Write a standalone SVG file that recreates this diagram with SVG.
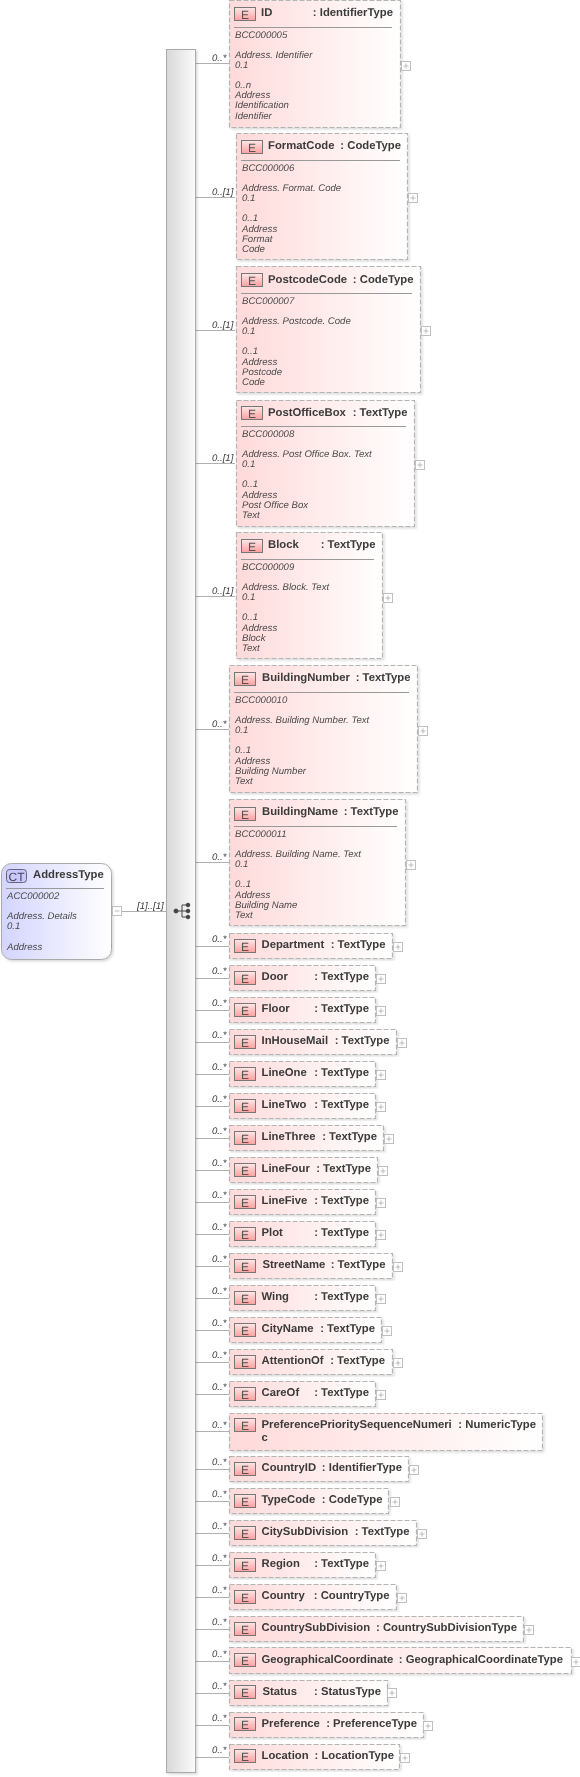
<svg xmlns="http://www.w3.org/2000/svg" width="580" height="1777" viewBox="0 0 580 1777">
<defs>
<linearGradient id="pk" x1="0" x2="1" y1="0" y2="0"><stop offset="0" stop-color="#ffdada"/><stop offset="1" stop-color="#ffffff"/></linearGradient>
<linearGradient id="bl" x1="0" x2="1" y1="0" y2="0"><stop offset="0" stop-color="#d4d4ff"/><stop offset="1" stop-color="#ffffff"/></linearGradient>
<linearGradient id="sp" x1="0" x2="1" y1="0" y2="0"><stop offset="0" stop-color="#d8d8d8"/><stop offset="1" stop-color="#fbfbfb"/></linearGradient>
<linearGradient id="eb" x1="0" x2="0" y1="0" y2="1"><stop offset="0" stop-color="#ffe8e8"/><stop offset="1" stop-color="#ff9f9f"/></linearGradient>
<filter id="sh" x="-10%" y="-10%" width="120%" height="120%"><feDropShadow dx="1.5" dy="1.5" stdDeviation="1" flood-color="#000" flood-opacity="0.15"/></filter>
<filter id="soft" filterUnits="userSpaceOnUse" x="0" y="0" width="580" height="1777"><feGaussianBlur stdDeviation="0.3"/></filter>
<g id="badge"><rect x="0.500" y="0.500" width="21" height="13" fill="url(#eb)" stroke="#777"/><text x="11" y="11.500" text-anchor="middle" class="bt">E</text></g>
<g id="plus"><rect x="0.500" y="0.500" width="9" height="9" fill="#fff" stroke="#c0c0c0"/><path d="M2.500 5H7.500M5 2.500V7.500" stroke="#bbb" fill="none"/></g>
</defs>
<style>
text{font-family:"Liberation Sans",Arial,sans-serif;text-rendering:geometricPrecision}
.n{font-size:11.3px;font-weight:bold;fill:#3a3a3a}
.i{font-size:9.6px;font-style:italic;fill:#4a4a4a}
.m{font-size:9.6px;font-style:italic;fill:#3a3a3a}
.bt{font-size:12px;fill:#555}
.b{fill:url(#pk);stroke:#b4b4b4;stroke-width:1.2;stroke-dasharray:5 2;filter:url(#sh)}
.r{stroke:#999;fill:none}
.c{stroke:#b0b0b0;fill:none}
</style>
<g filter="url(#soft)">
<g id="connectors">
<path class="c" d="M121 911.500H166M195 63.500H229M195 197.500H235M195 330.500H235M195 463.500H235M195 596.500H235M195 729.500H229M195 862.500H229M195 946.500H229M195 978.500H229M195 1010.500H229M195 1042.500H229M195 1074.500H229M195 1106.500H229M195 1138.500H229M195 1170.500H229M195 1202.500H229M195 1234.500H229M195 1266.500H229M195 1298.500H229M195 1330.500H229M195 1362.500H229M195 1394.500H229M195 1431.500H229M195 1469.500H229M195 1501.500H229M195 1533.500H229M195 1565.500H229M195 1597.500H229M195 1629.500H229M195 1661.500H229M195 1693.500H229M195 1725.500H229M195 1757.500H229"/>
<text class="m" x="137" y="909">[1]..[1]</text>
<text class="m" x="212" y="61">0..*</text><text class="m" x="212" y="195">0..[1]</text><text class="m" x="212" y="328">0..[1]</text><text class="m" x="212" y="461">0..[1]</text><text class="m" x="212" y="594">0..[1]</text><text class="m" x="212" y="727">0..*</text><text class="m" x="212" y="860">0..*</text>
<text class="m" x="212" y="942">0..*</text><text class="m" x="212" y="974">0..*</text><text class="m" x="212" y="1006">0..*</text><text class="m" x="212" y="1038">0..*</text><text class="m" x="212" y="1070">0..*</text><text class="m" x="212" y="1102">0..*</text><text class="m" x="212" y="1134">0..*</text><text class="m" x="212" y="1166">0..*</text><text class="m" x="212" y="1198">0..*</text><text class="m" x="212" y="1230">0..*</text><text class="m" x="212" y="1262">0..*</text><text class="m" x="212" y="1294">0..*</text><text class="m" x="212" y="1326">0..*</text><text class="m" x="212" y="1358">0..*</text><text class="m" x="212" y="1390">0..*</text><text class="m" x="212" y="1428">0..*</text><text class="m" x="212" y="1465">0..*</text><text class="m" x="212" y="1497">0..*</text><text class="m" x="212" y="1529">0..*</text><text class="m" x="212" y="1561">0..*</text><text class="m" x="212" y="1593">0..*</text><text class="m" x="212" y="1625">0..*</text><text class="m" x="212" y="1657">0..*</text><text class="m" x="212" y="1689">0..*</text><text class="m" x="212" y="1721">0..*</text><text class="m" x="212" y="1753">0..*</text>
</g>
<g id="spine">
<rect x="166.500" y="49.500" width="29" height="1723" fill="url(#sp)" stroke="#aaa" filter="url(#sh)"/>
<g fill="#444" stroke="#444"><circle cx="176" cy="911" r="2"/><path d="M176 911H182M182 905V917M182 905H188M182 911H188M182 917H188" fill="none"/><circle cx="188" cy="905" r="1.800"/><circle cx="188" cy="911" r="1.800"/><circle cx="188" cy="917" r="1.800"/></g>
</g>
<g id="AddressType">
<rect x="1.500" y="863.500" width="110" height="96" rx="10" fill="url(#bl)" stroke="#aaa" filter="url(#sh)"/>
<rect x="6.500" y="869.500" width="20" height="13" rx="3" fill="#c8c8ff" stroke="#667"/>
<text x="16.500" y="881" text-anchor="middle" font-size="12" fill="#445">CT</text>
<text class="n" x="33" y="878">AddressType</text>
<path class="r" d="M6 888.500H104"/>
<text class="i" x="7" y="899">ACC000002</text><text class="i" x="7" y="919">Address. Details</text><text class="i" x="7" y="929">0.1</text><text class="i" x="7" y="949.500">Address</text>
<rect x="112.500" y="906.500" width="9" height="9" fill="#fff" stroke="#c0c0c0"/><path d="M114.500 911H119.500" stroke="#bbb"/>
</g>
<g id="ID"><rect class="b" x="229.500" y="0.500" width="171" height="127"/><use href="#badge" x="234" y="7"/><text class="n" x="261" y="16">ID</text><text class="n" x="393" y="16" text-anchor="end">: IdentifierType</text><path class="r" d="M234 27.500H392"/><text class="i" x="235" y="38">BCC000005</text><text class="i" x="235" y="58">Address. Identifier</text><text class="i" x="235" y="68">0.1</text><text class="i" x="235" y="88">0..n</text><text class="i" x="235" y="98">Address</text><text class="i" x="235" y="108">Identification</text><text class="i" x="235" y="119">Identifier</text><use href="#plus" x="401" y="61"/></g>
<g id="FormatCode"><rect class="b" x="236.500" y="133.500" width="171" height="126"/><use href="#badge" x="241" y="140"/><text class="n" x="268" y="149">FormatCode</text><text class="n" x="401" y="149" text-anchor="end">: CodeType</text><path class="r" d="M241 160.500H400"/><text class="i" x="242" y="171">BCC000006</text><text class="i" x="242" y="191">Address. Format. Code</text><text class="i" x="242" y="201">0.1</text><text class="i" x="242" y="221">0..1</text><text class="i" x="242" y="232">Address</text><text class="i" x="242" y="242">Format</text><text class="i" x="242" y="252">Code</text><use href="#plus" x="408" y="193"/></g>
<g id="PostcodeCode"><rect class="b" x="236.500" y="266.500" width="184" height="126"/><use href="#badge" x="241" y="273"/><text class="n" x="268" y="282.500">PostcodeCode</text><text class="n" x="413.500" y="282.500" text-anchor="end">: CodeType</text><path class="r" d="M241 293.500H412"/><text class="i" x="242" y="304">BCC000007</text><text class="i" x="242" y="324">Address. Postcode. Code</text><text class="i" x="242" y="334">0.1</text><text class="i" x="242" y="354">0..1</text><text class="i" x="242" y="364.500">Address</text><text class="i" x="242" y="374.500">Postcode</text><text class="i" x="242" y="384.500">Code</text><use href="#plus" x="421" y="326"/></g>
<g id="PostOfficeBox"><rect class="b" x="236.500" y="400.500" width="178" height="126"/><use href="#badge" x="241" y="406"/><text class="n" x="268" y="415.500">PostOfficeBox</text><text class="n" x="407.500" y="415.500" text-anchor="end">: TextType</text><path class="r" d="M241 426.500H406"/><text class="i" x="242" y="437">BCC000008</text><text class="i" x="242" y="457">Address. Post Office Box. Text</text><text class="i" x="242" y="467">0.1</text><text class="i" x="242" y="487">0..1</text><text class="i" x="242" y="497.500">Address</text><text class="i" x="242" y="507.500">Post Office Box</text><text class="i" x="242" y="517.500">Text</text><use href="#plus" x="415" y="460"/></g>
<g id="Block"><rect class="b" x="236.500" y="532.500" width="146" height="126"/><use href="#badge" x="241" y="539"/><text class="n" x="268" y="548">Block</text><text class="n" x="375.500" y="548" text-anchor="end">: TextType</text><path class="r" d="M241 559.500H374"/><text class="i" x="242" y="570">BCC000009</text><text class="i" x="242" y="590">Address. Block. Text</text><text class="i" x="242" y="600">0.1</text><text class="i" x="242" y="620">0..1</text><text class="i" x="242" y="631">Address</text><text class="i" x="242" y="641">Block</text><text class="i" x="242" y="651">Text</text><use href="#plus" x="383" y="593"/></g>
<g id="BuildingNumber"><rect class="b" x="229.500" y="665.500" width="188" height="127"/><use href="#badge" x="234" y="672"/><text class="n" x="262" y="681">BuildingNumber</text><text class="n" x="410.500" y="681" text-anchor="end">: TextType</text><path class="r" d="M234 692.500H409"/><text class="i" x="235" y="703">BCC000010</text><text class="i" x="235" y="723">Address. Building Number. Text</text><text class="i" x="235" y="733">0.1</text><text class="i" x="235" y="753">0..1</text><text class="i" x="235" y="764">Address</text><text class="i" x="235" y="774">Building Number</text><text class="i" x="235" y="784">Text</text><use href="#plus" x="418" y="726"/></g>
<g id="BuildingName"><rect class="b" x="229.500" y="799.500" width="176" height="126"/><use href="#badge" x="234" y="807"/><text class="n" x="262" y="815">BuildingName</text><text class="n" x="398.500" y="815" text-anchor="end">: TextType</text><path class="r" d="M234 826.500H397"/><text class="i" x="235" y="837">BCC000011</text><text class="i" x="235" y="857">Address. Building Name. Text</text><text class="i" x="235" y="867">0.1</text><text class="i" x="235" y="887">0..1</text><text class="i" x="235" y="897.500">Address</text><text class="i" x="235" y="907.500">Building Name</text><text class="i" x="235" y="917.500">Text</text><use href="#plus" x="406" y="860"/></g>
<g id="Department"><rect class="b" x="229.500" y="933.500" width="163" height="25"/><use href="#badge" x="234" y="939"/><text class="n" x="261.500" y="948">Department</text><text class="n" x="385.500" y="948" text-anchor="end">: TextType</text><use href="#plus" x="393" y="942"/></g>
<g id="Door"><rect class="b" x="229.500" y="965.500" width="146" height="25"/><use href="#badge" x="234" y="971"/><text class="n" x="261.500" y="980">Door</text><text class="n" x="369" y="980" text-anchor="end">: TextType</text><use href="#plus" x="376" y="974"/></g>
<g id="Floor"><rect class="b" x="229.500" y="997.500" width="146" height="25"/><use href="#badge" x="234" y="1003"/><text class="n" x="261.500" y="1012">Floor</text><text class="n" x="369" y="1012" text-anchor="end">: TextType</text><use href="#plus" x="376" y="1006"/></g>
<g id="InHouseMail"><rect class="b" x="229.500" y="1029.500" width="167" height="25"/><use href="#badge" x="234" y="1035"/><text class="n" x="261.500" y="1044">InHouseMail</text><text class="n" x="389.500" y="1044" text-anchor="end">: TextType</text><use href="#plus" x="397" y="1038"/></g>
<g id="LineOne"><rect class="b" x="229.500" y="1061.500" width="146" height="25"/><use href="#badge" x="234" y="1067"/><text class="n" x="261.500" y="1076">LineOne</text><text class="n" x="369" y="1076" text-anchor="end">: TextType</text><use href="#plus" x="376" y="1070"/></g>
<g id="LineTwo"><rect class="b" x="229.500" y="1093.500" width="146" height="25"/><use href="#badge" x="234" y="1099"/><text class="n" x="261.500" y="1108">LineTwo</text><text class="n" x="369" y="1108" text-anchor="end">: TextType</text><use href="#plus" x="376" y="1102"/></g>
<g id="LineThree"><rect class="b" x="229.500" y="1125.500" width="154" height="25"/><use href="#badge" x="234" y="1131"/><text class="n" x="261.500" y="1140">LineThree</text><text class="n" x="377" y="1140" text-anchor="end">: TextType</text><use href="#plus" x="384" y="1134"/></g>
<g id="LineFour"><rect class="b" x="229.500" y="1157.500" width="148" height="25"/><use href="#badge" x="234" y="1163"/><text class="n" x="261.500" y="1172">LineFour</text><text class="n" x="371" y="1172" text-anchor="end">: TextType</text><use href="#plus" x="378" y="1166"/></g>
<g id="LineFive"><rect class="b" x="229.500" y="1189.500" width="146" height="25"/><use href="#badge" x="234" y="1195"/><text class="n" x="261.500" y="1204">LineFive</text><text class="n" x="369" y="1204" text-anchor="end">: TextType</text><use href="#plus" x="376" y="1198"/></g>
<g id="Plot"><rect class="b" x="229.500" y="1221.500" width="146" height="25"/><use href="#badge" x="234" y="1227"/><text class="n" x="261.500" y="1236">Plot</text><text class="n" x="369" y="1236" text-anchor="end">: TextType</text><use href="#plus" x="376" y="1230"/></g>
<g id="StreetName"><rect class="b" x="229.500" y="1253.500" width="163" height="25"/><use href="#badge" x="234" y="1259"/><text class="n" x="262.500" y="1268">StreetName</text><text class="n" x="385.500" y="1268" text-anchor="end">: TextType</text><use href="#plus" x="393" y="1262"/></g>
<g id="Wing"><rect class="b" x="229.500" y="1285.500" width="146" height="25"/><use href="#badge" x="234" y="1291"/><text class="n" x="261.500" y="1300">Wing</text><text class="n" x="369" y="1300" text-anchor="end">: TextType</text><use href="#plus" x="376" y="1294"/></g>
<g id="CityName"><rect class="b" x="229.500" y="1317.500" width="152" height="25"/><use href="#badge" x="234" y="1323"/><text class="n" x="261.500" y="1332">CityName</text><text class="n" x="375" y="1332" text-anchor="end">: TextType</text><use href="#plus" x="382" y="1326"/></g>
<g id="AttentionOf"><rect class="b" x="229.500" y="1349.500" width="163" height="25"/><use href="#badge" x="234" y="1355"/><text class="n" x="261.500" y="1364">AttentionOf</text><text class="n" x="385" y="1364" text-anchor="end">: TextType</text><use href="#plus" x="393" y="1358"/></g>
<g id="CareOf"><rect class="b" x="229.500" y="1381.500" width="146" height="25"/><use href="#badge" x="234" y="1387"/><text class="n" x="261.500" y="1396">CareOf</text><text class="n" x="369" y="1396" text-anchor="end">: TextType</text><use href="#plus" x="376" y="1390"/></g>
<g id="PreferencePrioritySequenceNumeric"><rect class="b" x="229.500" y="1413.500" width="313" height="37"/><use href="#badge" x="234" y="1418"/><text class="n" x="261.500" y="1428">PreferencePrioritySequenceNumeri</text><text class="n" x="261.500" y="1441">c</text><text class="n" x="536" y="1428" text-anchor="end">: NumericType</text></g>
<g id="CountryID"><rect class="b" x="229.500" y="1456.500" width="179" height="25"/><use href="#badge" x="234" y="1462"/><text class="n" x="261.500" y="1471">CountryID</text><text class="n" x="402" y="1471" text-anchor="end">: IdentifierType</text><use href="#plus" x="409" y="1465"/></g>
<g id="TypeCode"><rect class="b" x="229.500" y="1488.500" width="159" height="25"/><use href="#badge" x="234" y="1494"/><text class="n" x="261.500" y="1503">TypeCode</text><text class="n" x="382.500" y="1503" text-anchor="end">: CodeType</text><use href="#plus" x="390" y="1497"/></g>
<g id="CitySubDivision"><rect class="b" x="229.500" y="1520.500" width="187" height="25"/><use href="#badge" x="234" y="1526"/><text class="n" x="261.500" y="1535">CitySubDivision</text><text class="n" x="409.500" y="1535" text-anchor="end">: TextType</text><use href="#plus" x="417" y="1529"/></g>
<g id="Region"><rect class="b" x="229.500" y="1552.500" width="146" height="25"/><use href="#badge" x="234" y="1558"/><text class="n" x="261.500" y="1567">Region</text><text class="n" x="369" y="1567" text-anchor="end">: TextType</text><use href="#plus" x="376" y="1561"/></g>
<g id="Country"><rect class="b" x="229.500" y="1584.500" width="167" height="25"/><use href="#badge" x="234" y="1590"/><text class="n" x="261.500" y="1599">Country</text><text class="n" x="389.500" y="1599" text-anchor="end">: CountryType</text><use href="#plus" x="397" y="1593"/></g>
<g id="CountrySubDivision"><rect class="b" x="229.500" y="1616.500" width="294" height="25"/><use href="#badge" x="234" y="1622"/><text class="n" x="261.500" y="1631">CountrySubDivision</text><text class="n" x="517" y="1631" text-anchor="end">: CountrySubDivisionType</text><use href="#plus" x="524" y="1625"/></g>
<g id="GeographicalCoordinate"><rect class="b" x="229.500" y="1647.500" width="342" height="26"/><use href="#badge" x="234" y="1653"/><text class="n" x="261.500" y="1663">GeographicalCoordinate</text><text class="n" x="563" y="1663" text-anchor="end">: GeographicalCoordinateType</text><use href="#plus" x="571" y="1657"/></g>
<g id="Status"><rect class="b" x="229.500" y="1680.500" width="158" height="25"/><use href="#badge" x="234" y="1685"/><text class="n" x="262.500" y="1695">Status</text><text class="n" x="381" y="1695" text-anchor="end">: StatusType</text><use href="#plus" x="387" y="1688"/></g>
<g id="Preference"><rect class="b" x="229.500" y="1712.500" width="194" height="25"/><use href="#badge" x="234" y="1717"/><text class="n" x="261.500" y="1727">Preference</text><text class="n" x="417" y="1727" text-anchor="end">: PreferenceType</text><use href="#plus" x="423" y="1721"/></g>
<g id="Location"><rect class="b" x="229.500" y="1744.500" width="170" height="25"/><use href="#badge" x="234" y="1749"/><text class="n" x="261.500" y="1759">Location</text><text class="n" x="394" y="1759" text-anchor="end">: LocationType</text><use href="#plus" x="400" y="1753"/></g>
</g>
</svg>
